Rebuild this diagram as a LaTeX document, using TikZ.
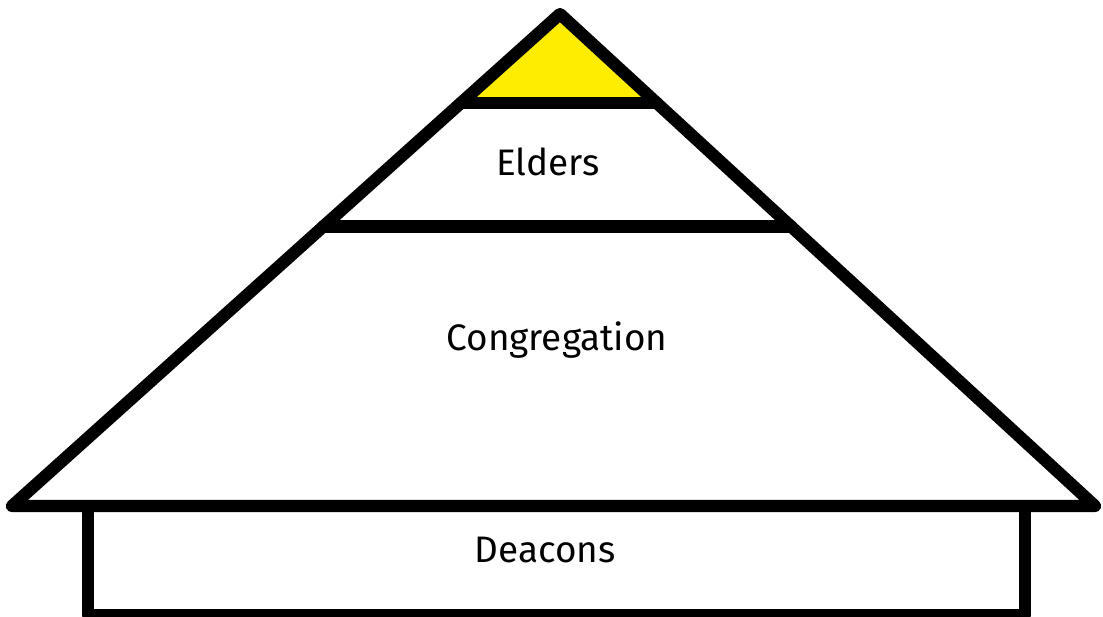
\documentclass[tikz,border=0pt]{standalone}
\usepackage{fontspec}
\setmainfont{Fira Sans}
\usepackage{tikz}
\usetikzlibrary{calc}
\definecolor{capyellow}{RGB}{255,237,0}

\begin{document}
\begin{tikzpicture}[x=0.02cm,y=-0.02cm,line width=7pt,line join=round,line cap=round]
\useasboundingbox (0,0) rectangle (1103,617);
\coordinate (top) at (560,14);
\coordinate (bl) at (12,506);
\coordinate (br) at (1095,506);
\coordinate (capl) at ($(top)!0.181!(bl)$);
\coordinate (capr) at ($(top)!0.181!(br)$);
\coordinate (eldl) at ($(top)!0.432!(bl)$);
\coordinate (eldr) at ($(top)!0.432!(br)$);

% yellow cap
\fill [capyellow] (top) -- (capl) -- (capr) -- cycle;
\draw (capl) -- (capr);
\draw (eldl) -- (eldr);

% deacons box
\draw (88,506) rectangle (1025,615);

% pyramid
\draw (top) -- (bl) -- (br) -- cycle;

\node (elders) at (548,162) {\fontsize{21}{24}\selectfont Elders};
\node (congregation) at (557,340) {\fontsize{21}{24}\selectfont Congregation};
\node (deacons) at (545,550) {\fontsize{21}{24}\selectfont Deacons};
\end{tikzpicture}
\end{document}
